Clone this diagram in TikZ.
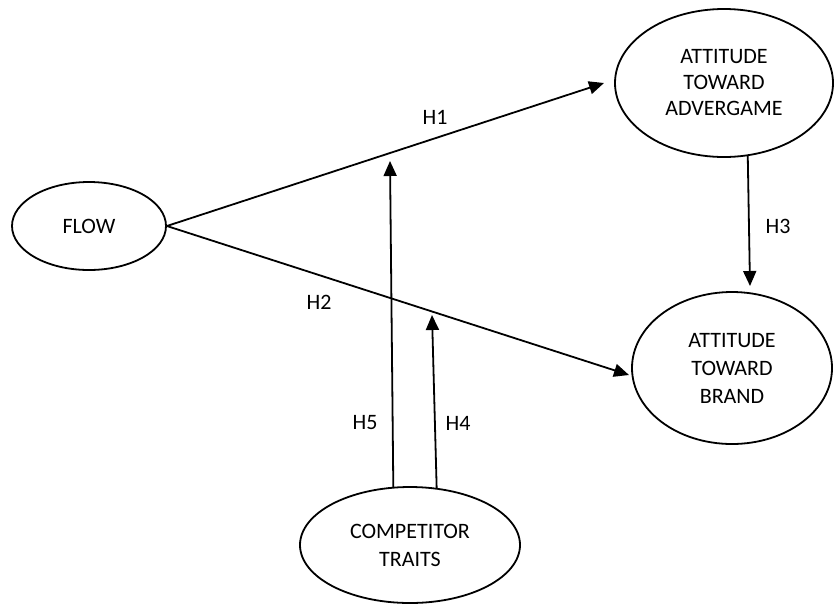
\documentclass[tikz,border=0pt]{standalone}
\usepackage{fontspec}
\setmainfont{Carlito}
\usetikzlibrary{shapes.geometric,arrows.meta}
\begin{document}
\begin{tikzpicture}[x=1pt,y=-1pt,
  ell/.style={draw,ellipse,line width=1.8pt,inner sep=0pt,align=center,font=\fontsize{22}{28}\selectfont},
  conn/.style={line width=1.8pt,-{Triangle[length=15pt,width=13pt]}},
  lab/.style={font=\fontsize{22}{26}\selectfont}]
\useasboundingbox (0,0) rectangle (834,606);
\node[ell,minimum width=154pt,minimum height=88pt] (flow) at (89,226) {FLOW};
\node[ell,minimum width=218pt,minimum height=148pt,font=\fontsize{22}{26}\selectfont] (adv) at (724,83) {ATTITUDE\\TOWARD\\ADVERGAME};
\node[ell,minimum width=200pt,minimum height=152pt] (brand) at (732,368) {ATTITUDE\\TOWARD\\BRAND};
\node[ell,minimum width=220pt,minimum height=116pt] (comp) at (410,545) {COMPETITOR\\TRAITS};
\coordinate (t1) at (604,83);
\coordinate (t2) at (629,375);
\coordinate (t3) at (750,286);
\coordinate (t5) at (390,161);
\coordinate (t4) at (432,315);
\draw[conn] (flow.east) -- (t1);
\draw[conn] (flow.east) -- (t2);
\draw[conn] (adv.-72) -- (t3);
\draw[conn] (comp.106.5) -- (t5);
\draw[conn] (comp.65.2) -- (t4);
\node[lab] (h1) at (435,117) {H1};
\node[lab] (h2) at (319,302) {H2};
\node[lab] (h3) at (778,226) {H3};
\node[lab] (h5) at (365,423) {H5};
\node[lab] (h4) at (458,423) {H4};
\end{tikzpicture}
\end{document}
